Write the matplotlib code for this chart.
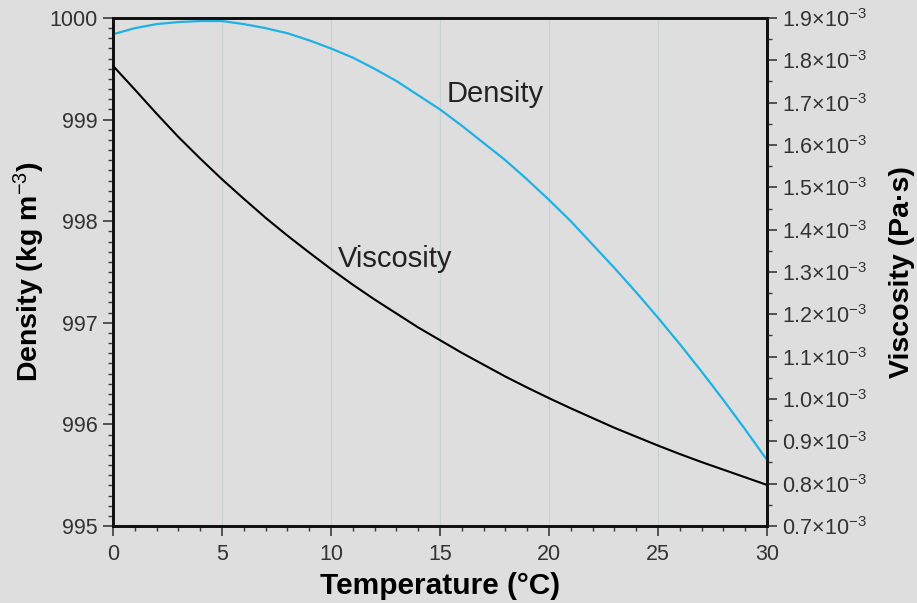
import numpy as np
import matplotlib.pyplot as plt
from matplotlib.ticker import MultipleLocator, FixedLocator

plt.rcParams.update({"font.family": ["Liberation Sans", "DejaVu Sans"],
                     "mathtext.fontset": "custom",
                     "mathtext.rm": "Liberation Sans",
                     "mathtext.it": "Liberation Sans:italic",
                     "mathtext.bf": "Liberation Sans:bold"})

# water properties, 0-30 degC
temp = list(range(0, 31))
density = [999.84, 999.90, 999.94, 999.96, 999.97, 999.97, 999.94, 999.90, 999.85, 999.78,
           999.70, 999.61, 999.50, 999.38, 999.24, 999.10, 998.94, 998.77, 998.60, 998.41,
           998.21, 998.00, 997.77, 997.54, 997.30, 997.05, 996.79, 996.52, 996.24, 995.95,
           995.65]
viscosity = [1.787, 1.731, 1.674, 1.619, 1.568, 1.519, 1.473, 1.428, 1.386, 1.346,
             1.307, 1.270, 1.235, 1.202, 1.169, 1.139, 1.109, 1.081, 1.053, 1.027,
             1.002, 0.978, 0.955, 0.932, 0.911, 0.890, 0.870, 0.851, 0.833, 0.815,
             0.797]  # x 1e-3 Pa s
visc_ticks = [0.7, 0.8, 0.9, 1.0, 1.1, 1.2, 1.3, 1.4, 1.5, 1.6, 1.7, 1.8, 1.9]

BG = "#dedede"
TICK = "#3a3a3a"

fig = plt.figure(figsize=(9.17, 6.03), dpi=100, facecolor=BG)
ax = fig.add_axes([113 / 917, 1 - 526 / 603, (767 - 113) / 917, (526 - 18) / 603])
ax.set_facecolor(BG)
ax2 = ax.twinx()

# grid lines
for xv in [5, 10, 15, 20, 25]:
    ax.axvline(xv, color="#c9d3d3", lw=0.9, zorder=0)

ax.plot(temp, density, color="#1eb2e4", lw=1.6, zorder=3)
ax2.plot(temp, np.array(viscosity) * 1e-3, color="black", lw=1.5, zorder=3)

ax.set_xlim(0, 30)
ax.set_ylim(995, 1000)
ax2.set_ylim(0.7e-3, 1.9e-3)

ax.xaxis.set_major_locator(MultipleLocator(5))
ax.xaxis.set_minor_locator(MultipleLocator(1))
ax.yaxis.set_major_locator(MultipleLocator(1))
ax.yaxis.set_minor_locator(MultipleLocator(0.1))
ax2.yaxis.set_major_locator(FixedLocator([v * 1e-3 for v in visc_ticks]))
ax2.yaxis.set_minor_locator(FixedLocator([(v + 0.05) * 1e-3 for v in visc_ticks[:-1]]))
ax2.set_yticklabels(["%.1f×10$^{-3}$" % v for v in visc_ticks])

for a in (ax, ax2):
    for s in a.spines.values():
        s.set_linewidth(2.0)
        s.set_color("#111111")
    a.tick_params(which="major", direction="out", length=7, width=1.2, color=TICK,
                  labelsize=15.5, labelcolor="#333333", pad=4)
    a.tick_params(which="minor", direction="out", length=3.5, width=1.0, color=TICK)
ax.tick_params(axis="x", which="major", pad=6)

ax.set_xlabel("Temperature (°C)", fontsize=21.5, fontweight="bold", labelpad=5)
ax.set_ylabel(r"Density (kg m$^{-3}$)", fontsize=20.5, fontweight="bold", labelpad=2)
ax2.set_ylabel("Viscosity (Pa·s)", fontsize=20.5, fontweight="bold", rotation=90, labelpad=16)

ax.text(15.3, 999.17, "Density", fontsize=21, color="#222222", ha="left", va="baseline", zorder=4)
ax.text(10.3, 997.55, "Viscosity", fontsize=21, color="#222222", ha="left", va="baseline", zorder=4)

fig.savefig("out.png", dpi=100, facecolor=BG)
